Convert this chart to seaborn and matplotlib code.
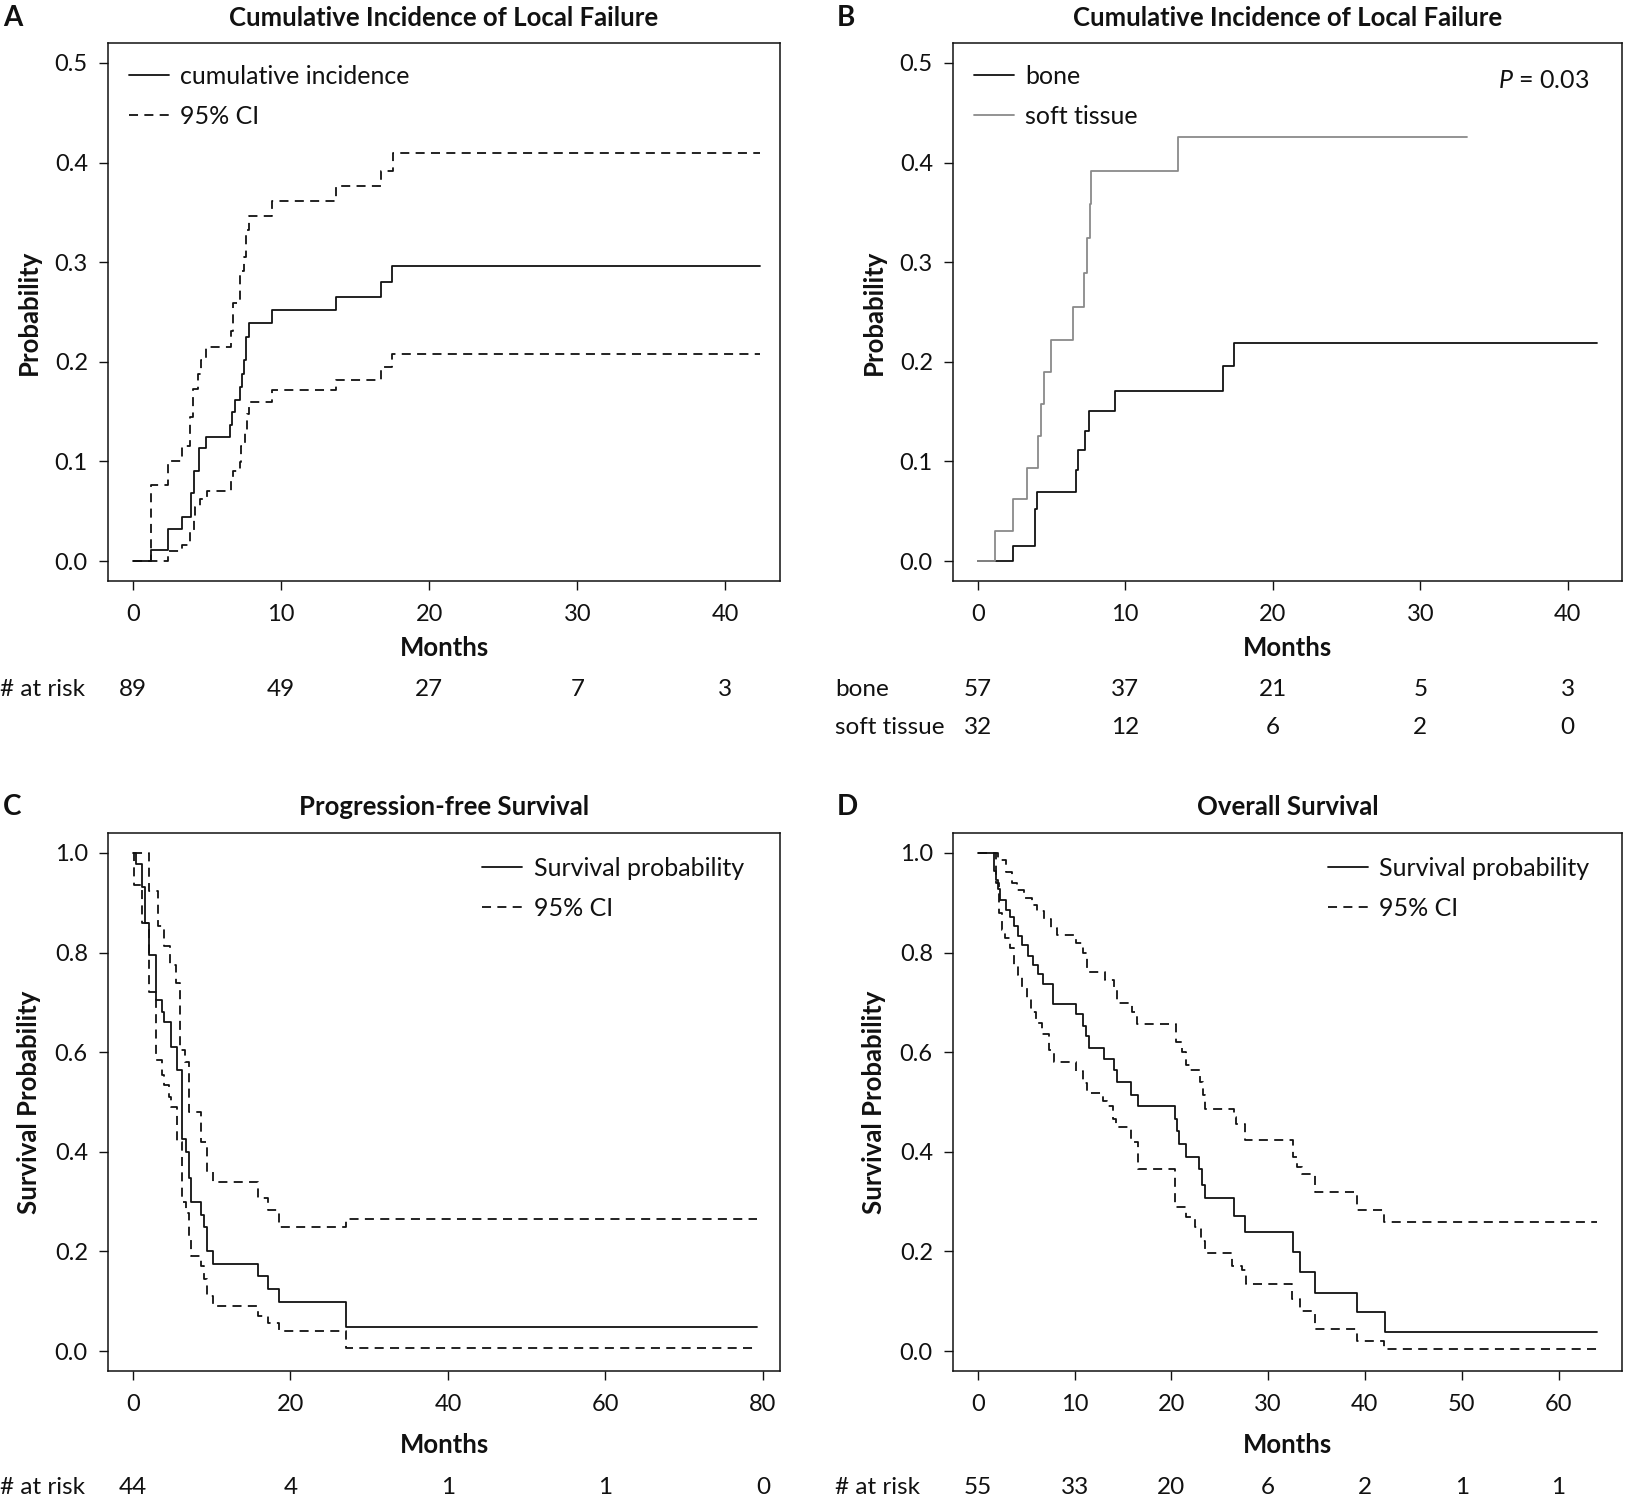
import matplotlib
matplotlib.use("Agg")
import matplotlib.pyplot as plt
import matplotlib.transforms as mtransforms
import seaborn as sns
import pandas as pd

# ---- data (months, probability) ----
# A: cumulative incidence of local failure, all patients
a_est_t = [0, 1.19, 2.40, 3.34, 3.95, 4.10, 4.47, 4.95, 6.57, 6.72, 6.90, 7.20, 7.39, 7.51, 7.63, 7.81, 9.39, 13.74, 16.78, 17.48, 42.3]
a_est_v = [0, 0.011, 0.0325, 0.044, 0.068, 0.090, 0.1135, 0.125, 0.137, 0.150, 0.162, 0.175, 0.188, 0.202, 0.225, 0.2385, 0.252, 0.265, 0.280, 0.296, 0.296]
a_up_t = [0, 1.19, 2.40, 3.34, 3.86, 4.04, 4.41, 4.59, 4.95, 6.60, 6.75, 7.20, 7.51, 7.66, 7.84, 9.39, 13.74, 16.78, 17.54, 42.3]
a_up_v = [0, 0.076, 0.100, 0.116, 0.145, 0.173, 0.188, 0.202, 0.215, 0.231, 0.259, 0.291, 0.305, 0.332, 0.346, 0.361, 0.376, 0.392, 0.410, 0.410]
a_lo_t = [0, 2.40, 3.34, 3.86, 4.10, 4.22, 4.53, 4.98, 6.60, 6.75, 7.20, 7.29, 7.57, 7.72, 7.84, 9.39, 13.74, 16.78, 17.48, 42.3]
a_lo_v = [0, 0.010, 0.016, 0.030, 0.044, 0.054, 0.062, 0.070, 0.082, 0.090, 0.0995, 0.116, 0.130, 0.148, 0.160, 0.1715, 0.182, 0.195, 0.208, 0.208]

# B: by site
bone_t = [0, 2.36, 3.85, 4.04, 6.68, 6.77, 7.24, 7.55, 9.32, 16.65, 17.4, 42.0]
bone_v = [0, 0.015, 0.052, 0.0696, 0.091, 0.111, 0.131, 0.1505, 0.171, 0.196, 0.219, 0.219]
soft_t = [0, 1.18, 2.36, 3.32, 4.07, 4.32, 4.5, 4.97, 6.49, 7.2, 7.39, 7.58, 7.7, 13.6, 33.2]
soft_v = [0, 0.030, 0.062, 0.093, 0.126, 0.158, 0.190, 0.222, 0.255, 0.289, 0.324, 0.358, 0.392, 0.426, 0.426]

# C: progression-free survival
c_est_t = [0, 0.34, 1.14, 1.6, 2.1, 2.97, 3.71, 4.0, 4.8, 5.6, 6.2, 6.7, 7.1, 7.4, 8.7, 9.0, 9.4, 10.2, 15.9, 17.1, 18.5, 27.0, 79.3]
c_est_v = [1.0, 0.977, 0.931, 0.86, 0.796, 0.704, 0.68, 0.66, 0.61, 0.565, 0.425, 0.40, 0.348, 0.30, 0.274, 0.25, 0.20, 0.174, 0.151, 0.124, 0.099, 0.049, 0.049]
c_up_t = [0, 2.0, 3.14, 4.0, 4.74, 5.43, 6.0, 6.57, 7.14, 8.69, 9.43, 10.2, 15.9, 17.1, 18.5, 27.0, 79.3]
c_up_v = [1.0, 0.923, 0.853, 0.813, 0.776, 0.739, 0.605, 0.58, 0.48, 0.42, 0.36, 0.34, 0.308, 0.283, 0.25, 0.265, 0.265]
c_lo_t = [0, 0.17, 1.14, 2.1, 2.97, 3.71, 4.0, 4.6, 4.8, 5.6, 6.2, 6.7, 7.1, 7.4, 8.7, 9.0, 9.4, 10.2, 15.9, 17.1, 18.5, 27.0, 79.3]
c_lo_v = [1.0, 0.936, 0.86, 0.72, 0.585, 0.555, 0.535, 0.51, 0.49, 0.42, 0.30, 0.277, 0.23, 0.19, 0.17, 0.145, 0.11, 0.091, 0.07, 0.057, 0.04, 0.007, 0.007]

# D: overall survival
d_est_t = [0, 1.69, 1.91, 2.13, 2.31, 2.88, 3.33, 3.77, 4.12, 4.57, 5.23, 5.68, 6.21, 6.79, 7.76, 10.1, 10.86, 11.2, 11.44, 13.08,
           14.1, 14.41, 15.83, 16.54, 20.4, 20.62, 20.84, 21.5, 22.84, 23.19, 23.5, 26.47, 27.63, 32.6, 33.26, 34.8, 39.16, 42.04, 64]
d_est_v = [1.0, 0.964, 0.945, 0.927, 0.906, 0.886, 0.872, 0.853, 0.834, 0.816, 0.794, 0.776, 0.756, 0.736, 0.697, 0.676, 0.652, 0.632, 0.609, 0.587,
           0.564, 0.54, 0.514, 0.491, 0.465, 0.442, 0.415, 0.39, 0.365, 0.334, 0.308, 0.271, 0.239, 0.198, 0.159, 0.117, 0.078, 0.039, 0.039]
d_up_t = [0, 2.1, 2.9, 3.5, 4.1, 4.8, 5.6, 6.1, 6.8, 7.6, 8.2, 10.1, 10.9, 11.3, 13.1, 14.1, 14.4, 15.9, 16.5, 20.5,
          21.1, 21.5, 21.95, 22.97, 23.3, 23.5, 26.5, 26.7, 27.6, 32.6, 33.0, 33.5, 34.8, 39.2, 42.0, 64]
d_up_v = [1.0, 0.985, 0.962, 0.94, 0.925, 0.91, 0.896, 0.884, 0.867, 0.85, 0.835, 0.82, 0.799, 0.76, 0.745, 0.727, 0.698, 0.68, 0.657, 0.62,
          0.60, 0.575, 0.564, 0.54, 0.515, 0.485, 0.47, 0.455, 0.423, 0.39, 0.37, 0.356, 0.32, 0.284, 0.26, 0.26]
d_lo_t = [0, 1.9, 2.2, 2.5, 2.8, 3.3, 3.7, 4.2, 4.6, 5.1, 5.5, 6.0, 6.6, 7.4, 7.9, 10.1, 10.9, 11.3, 12.9, 13.4,
          14.0, 14.3, 15.8, 16.6, 20.4, 21.5, 22.4, 23.1, 23.5, 26.3, 27.3, 27.7, 32.5, 33.3, 34.8, 39.2, 42.0, 64]
d_lo_v = [1.0, 0.94, 0.88, 0.845, 0.83, 0.81, 0.775, 0.755, 0.73, 0.708, 0.68, 0.658, 0.637, 0.605, 0.581, 0.562, 0.538, 0.518, 0.502, 0.492,
          0.466, 0.45, 0.42, 0.365, 0.29, 0.27, 0.25, 0.22, 0.196, 0.17, 0.163, 0.135, 0.105, 0.08, 0.044, 0.02, 0.005, 0.005]

# numbers at risk
a_ticks = [0, 10, 20, 30, 40]
a_risk = [89, 49, 27, 7, 3]
b_ticks = [0, 10, 20, 30, 40]
b_risk_bone = [57, 37, 21, 5, 3]
b_risk_soft = [32, 12, 6, 2, 0]
c_ticks = [0, 20, 40, 60, 80]
c_risk = [44, 4, 1, 1, 0]
d_ticks = [0, 10, 20, 30, 40, 50, 60]
d_risk = [55, 33, 20, 6, 2, 1, 1]

# ---- style ----
sns.set_theme(style="white")
plt.rcParams['font.family'] = ['Lato', 'DejaVu Sans']
plt.rcParams['mathtext.fontset'] = 'custom'
plt.rcParams['mathtext.it'] = 'Lato:italic'
plt.rcParams['mathtext.rm'] = 'Lato'
FS = 17           # tick labels, at-risk table
FS_LEG = 18       # legends
FS_LAB = 18.5     # titles / axis labels
W, H = 1625, 1500
BLACK = '#111111'
GRAY = '#8a8a8a'
DASH = (0, (5, 3.5))

fig = plt.figure(figsize=(W / 100, H / 100), dpi=100)


def rect(l, t, r, b):
    return [l / W, 1 - b / H, (r - l) / W, (b - t) / H]


def ftext(x, y, s, **kw):
    kw.setdefault('fontsize', FS)
    fig.text(x / W, 1 - y / H, s, color=BLACK, **kw)


def step(ax, t, v, color=BLACK, ls='-', label='_nolegend_'):
    df = pd.DataFrame({'t': t, 'v': v})
    sns.lineplot(data=df, x='t', y='v', ax=ax, drawstyle='steps-post', estimator=None, sort=False,
                 color=color, linestyle=ls, lw=1.3, label=label)


def setup(ax, xlim, ylim, xticks, yticks, yfmt):
    ax.set_xlim(*xlim)
    ax.set_ylim(*ylim)
    ax.set_xticks(xticks)
    ax.set_yticks(yticks)
    ax.set_yticklabels([yfmt.format(y) for y in yticks])
    ax.set_xlabel('')
    ax.set_ylabel('')
    for s in ax.spines.values():
        s.set_visible(True)
        s.set_color(BLACK)
        s.set_linewidth(1.1)
    ax.tick_params(axis='both', direction='out', length=6.5, width=1.0, color=BLACK,
                   labelsize=FS, labelcolor=BLACK, bottom=True, left=True)
    ax.tick_params(axis='x', pad=10)
    ax.tick_params(axis='y', pad=8)


def risk_row(ax, ticks, vals, y):
    tr = mtransforms.blended_transform_factory(ax.transData, fig.transFigure)
    for x, n in zip(ticks, vals):
        ax.text(x, 1 - y / H, str(n), transform=tr, ha='center', va='center', fontsize=FS + 0.5, color=BLACK)


cols = {'L': (108, 780), 'R': (953, 1622)}
rows = {'T': (43, 581), 'B': (833, 1371)}

axA = fig.add_axes(rect(cols['L'][0], rows['T'][0], cols['L'][1], rows['T'][1]))
axB = fig.add_axes(rect(cols['R'][0], rows['T'][0], cols['R'][1], rows['T'][1]))
axC = fig.add_axes(rect(cols['L'][0], rows['B'][0], cols['L'][1], rows['B'][1]))
axD = fig.add_axes(rect(cols['R'][0], rows['B'][0], cols['R'][1], rows['B'][1]))

# A
step(axA, a_est_t, a_est_v, label='cumulative incidence')
step(axA, a_up_t, a_up_v, ls=DASH, label='95% CI')
step(axA, a_lo_t, a_lo_v, ls=DASH)
setup(axA, (-1.68, 43.68), (-0.02, 0.52), a_ticks, [0, 0.1, 0.2, 0.3, 0.4, 0.5], '{:.1f}')

# B
step(axB, bone_t, bone_v, label='bone')
step(axB, soft_t, soft_v, color=GRAY, label='soft tissue')
setup(axB, (-1.68, 43.68), (-0.02, 0.52), b_ticks, [0, 0.1, 0.2, 0.3, 0.4, 0.5], '{:.1f}')

# C
step(axC, c_est_t, c_est_v, label='Survival probability')
step(axC, c_up_t, c_up_v, ls=DASH, label='95% CI')
step(axC, c_lo_t, c_lo_v, ls=DASH)
setup(axC, (-3.16, 82.16), (-0.04, 1.04), c_ticks, [0, 0.2, 0.4, 0.6, 0.8, 1.0], '{:.1f}')

# D
step(axD, d_est_t, d_est_v, label='Survival probability')
step(axD, d_up_t, d_up_v, ls=DASH, label='95% CI')
step(axD, d_lo_t, d_lo_v, ls=DASH)
setup(axD, (-2.56, 66.56), (-0.04, 1.04), d_ticks, [0, 0.2, 0.4, 0.6, 0.8, 1.0], '{:.1f}')

# legends
leg_kw = dict(frameon=False, fontsize=FS_LEG, handlelength=1.6, handletextpad=0.45,
              labelspacing=0.66, borderpad=0, borderaxespad=0)
for ax in (axA, axB):
    lg = ax.legend(loc='upper left', bbox_to_anchor=(0.031, 0.959), **leg_kw)
    for t in lg.get_texts():
        t.set_color(BLACK)
for ax, xr in ((axC, 0.946), (axD, 0.951)):
    lg = ax.legend(loc='upper right', bbox_to_anchor=(xr, 0.955), **leg_kw)
    for t in lg.get_texts():
        t.set_color(BLACK)

ftext(1589, 81, r'$P$ = 0.03', ha='right', va='center', fontsize=FS_LEG)

# titles, panel letters, axis labels
for ax, (l, r), top, title, letter, lx in (
        (axA, cols['L'], 17.6, 'Cumulative Incidence of Local Failure', 'A', 3),
        (axB, cols['R'], 17.6, 'Cumulative Incidence of Local Failure', 'B', 837),
        (axC, cols['L'], 807, 'Progression-free Survival', 'C', 3),
        (axD, cols['R'], 807, 'Overall Survival', 'D', 837)):
    ftext((l + r) / 2, top, title, ha='center', va='center', fontweight='bold', fontsize=FS_LAB)
    ftext(lx, top, letter, ha='left', va='center', fontweight='bold', fontsize=FS_LAB + 1.5)

for x, y, s in ((29, 312, 'Probability'), (874, 312, 'Probability'),
                (29, 1102, 'Survival Probability'), (874, 1102, 'Survival Probability')):
    ftext(x, y, s, rotation=90, ha='center', va='center', fontweight='bold', fontsize=FS_LAB)

for (l, r), y in ((cols['L'], 648), (cols['R'], 648), (cols['L'], 1445), (cols['R'], 1445)):
    ftext((l + r) / 2, y, 'Months', ha='center', va='center', fontweight='bold', fontsize=FS_LAB)

# numbers at risk
FS_R = FS + 0.5
ftext(0, 689, '# at risk', ha='left', va='center', fontsize=FS_R)
risk_row(axA, a_ticks, a_risk, 689)
ftext(835, 689, 'bone', ha='left', va='center', fontsize=FS_R)
ftext(835, 727.5, 'soft tissue', ha='left', va='center', fontsize=FS_R)
risk_row(axB, b_ticks, b_risk_bone, 689)
risk_row(axB, b_ticks, b_risk_soft, 727.5)
ftext(0, 1487, '# at risk', ha='left', va='center', fontsize=FS_R)
risk_row(axC, c_ticks, c_risk, 1487)
ftext(835, 1487, '# at risk', ha='left', va='center', fontsize=FS_R)
risk_row(axD, d_ticks, d_risk, 1487)

fig.savefig('out.png', dpi=100, facecolor='white')
